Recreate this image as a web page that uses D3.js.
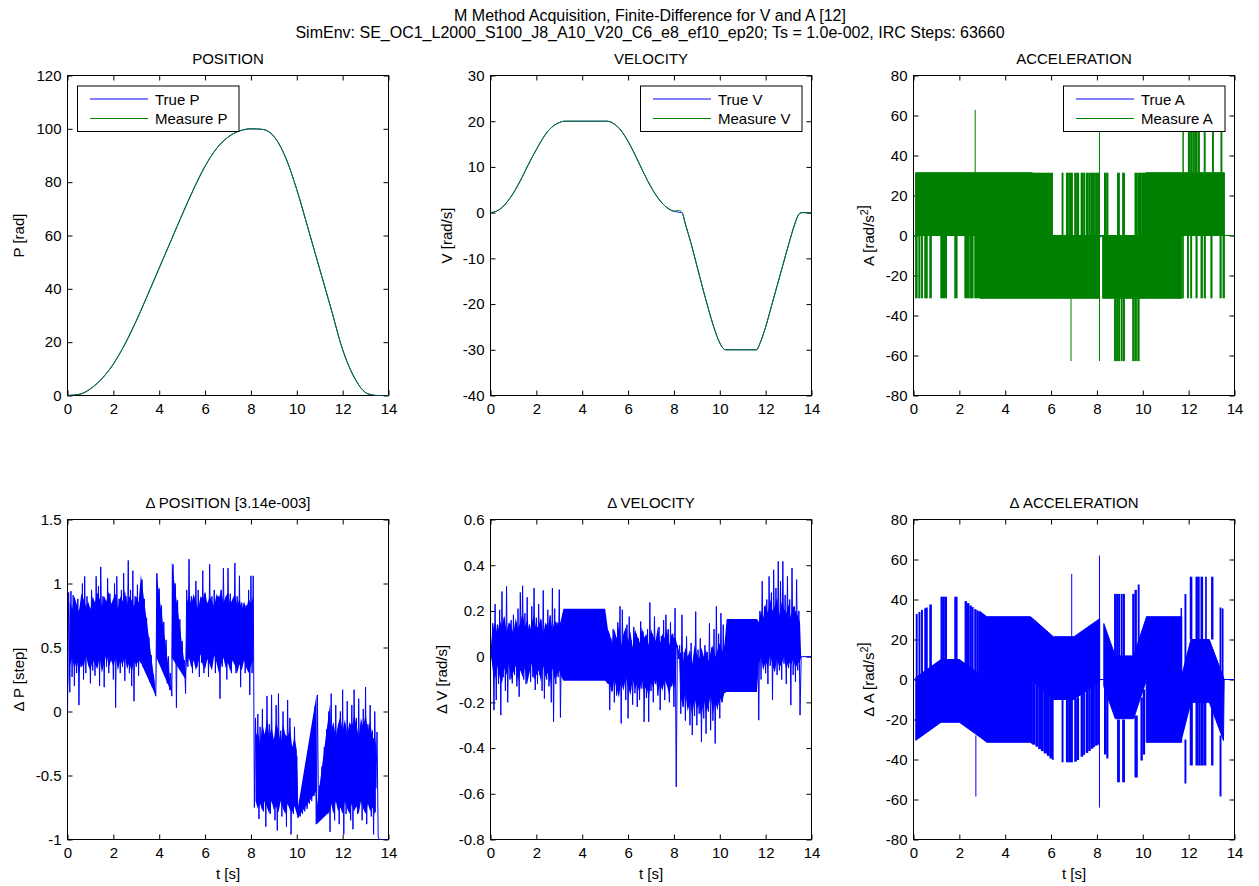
<!DOCTYPE html>
<html>
<head>
<meta charset="utf-8">
<script src="https://cdn.jsdelivr.net/npm/d3@7/dist/d3.min.js"></script>
<style>
  html, body { margin: 0; padding: 0; background: #fff; }
  svg { display: block; }
</style>
</head>
<body>
<svg id="fig" width="1259" height="886"></svg>
<script>
// ================= data =================
const xTicks   = [0, 2, 4, 6, 8, 10, 12, 14];
const posTicks = [0, 20, 40, 60, 80, 100, 120];
const velTicks = [-40, -30, -20, -10, 0, 10, 20, 30];
const accTicks = [-80, -60, -40, -20, 0, 20, 40, 60, 80];
const dPosTicks = [-1, -0.5, 0, 0.5, 1, 1.5];
const dVelTicks = [-0.8, -0.6, -0.4, -0.2, 0, 0.2, 0.4, 0.6];

// position [rad]
const posT    = [0, 0.5, 1, 1.5, 2, 2.5, 3, 3.5, 4, 4.5, 5, 5.5, 6, 6.5, 7, 7.5, 8, 8.5, 9, 9.5, 10, 10.5, 11, 11.5, 12, 12.5, 13, 13.3, 13.5, 14];
const posTrue = [0, 0.4, 2.5, 6.3, 11.8, 19.2, 28.0, 37.8, 47.8, 57.8, 67.8, 77.4, 86.0, 92.6, 96.9, 99.2, 100, 99.8, 97.2, 89.5, 77.2, 62.4, 47.4, 32.4, 17.2, 6.9, 1.1, 0.2, 0, 0];
const posMeas = [0, 0.4, 2.5, 6.3, 11.8, 19.2, 28.0, 37.8, 47.8, 57.8, 67.8, 77.4, 86.0, 92.6, 96.9, 99.2, 100, 99.8, 97.2, 89.5, 77.2, 62.4, 47.4, 32.4, 17.2, 6.9, 1.1, 0.2, 0, 0];

// velocity [rad/s]
const velT    = [0, 0.25, 0.5, 0.75, 1, 1.25, 1.5, 1.75, 2, 2.25, 2.5, 2.75, 3, 3.2, 5.1, 5.3, 5.5, 5.75, 6, 6.25, 6.5, 6.75, 7, 7.25, 7.5, 7.75, 8, 8.2, 8.35, 8.5, 8.75, 9, 9.25, 9.5, 9.75, 10, 10.15, 10.25, 11.6, 11.75, 12, 12.25, 12.5, 12.75, 13, 13.25, 13.4, 13.5, 13.6, 14];
const velTrue = [0, 0.3, 1.1, 2.5, 4.3, 6.5, 9.0, 11.5, 13.8, 16, 17.8, 19, 19.7, 20, 20, 19.7, 19, 17.6, 15.6, 13.2, 10.6, 8, 5.6, 3.6, 2, 0.9, 0.3, 0.1, 0, -2.5, -6.8, -11.6, -16.4, -21, -25.2, -28.5, -29.7, -30, -30, -28.6, -25, -20.5, -16, -11.5, -7, -2.8, -0.8, -0.1, 0, 0];
const velMeas = [0, 0.3, 1.1, 2.5, 4.3, 6.5, 9.0, 11.5, 13.8, 16, 17.8, 19, 19.7, 20, 20, 19.7, 19, 17.6, 15.6, 13.2, 10.6, 8, 5.6, 3.6, 2, 0.9, 0.3, 0.5, 0, -2.5, -6.8, -11.6, -16.4, -21, -25.2, -28.5, -29.7, -30, -30, -28.6, -25, -20.5, -16, -11.5, -7, -2.8, -0.8, -0.1, 0, 0];

// true acceleration [rad/s^2]
const accTrueT = [0, 0.1, 1.2, 2.0, 3.2, 5.1, 6.1, 7.0, 8.1, 8.25, 8.8, 9.6, 10.15, 11.65, 12.1, 12.9, 13.5, 14];
const accTrue  = [0, 0, 10, 10, 0, 0, -10, -10, -1, 0, -20, -20, 0, 0, 20, 20, 0, 0];

// measured acceleration: dense switching band (envelope) ...
const accEnvT  = [0, 0.09, 0.09, 2.9, 2.9, 5.18, 5.18, 8.11, 8.11, 8.25, 8.25, 10.15, 10.15, 11.7, 11.7, 13.56, 13.56, 14];
const accEnvLo = [0, 0, 0, 0, -31.4, -31.4, -31.4, -31.4, 0, 0, -31.4, -31.4, -31.4, -31.4, 0, 0, 0, 0];
const accEnvHi = [0, 0, 31.4, 31.4, 31.4, 31.4, 0, 0, 0, 0, 0, 0, 31.4, 31.4, 31.4, 31.4, 0, 0];
// ... and bursts outside it: [t start, t end, from, to]
const accBursts = [
  [0.09, 0.16, -31.4, 0], [0.23, 0.28, -31.4, 0], [0.35, 0.39, -31.4, 0], [0.49, 0.6, -31.4, 0],
  [0.71, 0.78, -31.4, 0], [1.19, 1.44, -31.4, 0], [1.8, 1.9, -31.4, 0], [2.24, 2.42, -31.4, 0],
  [2.46, 2.6, -31.4, 0], [2.67, 2.89, -31.4, 0],
  [2.69, 2.69, 31.4, 62.8],
  [5.18, 5.32, 0, 31.4], [5.35, 5.5, 0, 31.4], [5.53, 5.68, 0, 31.4], [5.71, 5.86, 0, 31.4], [5.89, 6.06, 0, 31.4],
  [6.48, 6.52, 0, 31.4], [6.67, 6.75, 0, 31.4], [6.78, 6.85, 0, 31.4], [6.88, 6.93, 0, 31.4],
  [7.03, 7.1, 0, 31.4], [7.13, 7.2, 0, 31.4], [7.31, 7.38, 0, 31.4], [7.42, 7.46, 0, 31.4],
  [7.53, 7.6, 0, 31.4], [7.64, 7.71, 0, 31.4], [7.75, 7.82, 0, 31.4], [7.85, 7.89, 0, 31.4],
  [7.94, 8.0, 0, 31.4], [8.03, 8.08, 0, 31.4],
  [6.87, 6.87, -62.8, -31.4], [8.11, 8.11, -62.8, 62.8],
  [8.33, 8.4, 0, 31.4], [8.43, 8.48, 0, 31.4], [8.9, 8.98, 0, 31.4], [9.12, 9.2, 0, 31.4],
  [9.66, 9.76, 0, 31.4], [9.8, 9.92, 0, 31.4], [9.95, 10.15, 0, 31.4],
  [8.77, 8.82, -62.8, -31.4], [8.86, 8.92, -62.8, -31.4], [8.95, 8.99, -62.8, -31.4],
  [9.06, 9.1, -62.8, -31.4], [9.15, 9.2, -62.8, -31.4], [9.56, 9.62, -62.8, -31.4],
  [9.66, 9.72, -62.8, -31.4], [9.78, 9.84, -62.8, -31.4],
  [11.74, 11.77, -31.4, 0], [11.95, 11.99, -31.4, 0], [12.09, 12.13, -31.4, 0], [12.32, 12.37, -31.4, 0],
  [12.54, 12.6, -31.4, 0], [12.68, 12.73, -31.4, 0], [12.97, 13.02, -31.4, 0], [13.37, 13.42, -31.4, 0],
  [13.5, 13.56, -31.4, 0],
  [11.75, 11.77, 31.4, 62.8], [11.99, 12.05, 31.4, 62.8], [12.09, 12.15, 31.4, 62.8], [12.19, 12.25, 31.4, 62.8],
  [12.3, 12.36, 31.4, 62.8], [12.41, 12.47, 31.4, 62.8], [12.68, 12.72, 31.4, 62.8], [13.04, 13.08, 31.4, 62.8],
  [13.41, 13.45, 31.4, 62.8]
];

// position error [step], sampled every 0.05 s
const dPosStep = 0.05;
const dPosA = [
  0.0, 0.93, 0.15, 0.94, 0.27, 0.91, 0.2, 0.75, 0.3, 0.88,
  0.05, 0.8, 0.35, 1.0, 0.25, 1.056, 0.3, 0.9, 0.4, 0.78,
  0.22, 0.95, 0.32, 0.85, 0.28, 1.056, 0.4, 0.98, 0.2, 1.13,
  0.5, 0.9, 0.19, 0.85, 0.35, 1.04, 0.3, 0.92, 0.45, 0.8,
  0.25, 1.0, 0.03, 1.056, 0.4, 0.88, 0.3, 0.95, 0.35, 1.08,
  0.24, 0.9, 0.42, 1.18, 0.3, 0.95, 0.2, 1.1, 0.08, 0.9,
  0.35, 0.99, 0.28, 0.85, 0.38, 1.03, 0.35, 0.88, 0.31, 0.73,
  0.27, 0.58, 0.23, 0.44, 0.19, 0.29, 0.16, 0.12, 1.08, 0.42,
  0.96, 0.38, 0.83, 0.33, 0.7, 0.28, 0.56, 0.22, 0.43, 0.17,
  0.3, 0.12, 1.15, 0.45, 1.0, 0.03, 0.87, 0.4, 0.72, 0.35,
  0.55, 0.3, 0.4, 0.14, 0.95, 0.35, 1.19, 0.4, 0.9, 0.3,
  0.85, 0.45, 1.02, 0.35, 0.95, 0.27, 0.88, 0.38, 1.1, 0.3,
  0.92, 0.4, 0.85, 0.27, 1.15, 0.35, 0.9, 0.45, 0.95, 0.3,
  0.82, 0.4, 0.9, 0.1, 0.95, 0.35, 1.12, 0.42, 0.88, 0.25,
  1.12, 0.38, 0.92, 0.3, 0.85, 0.44, 1.16, 0.3, 0.9, 0.36,
  1.06, 0.19, 0.85, 0.4, 0.78, 0.3, 0.83, 0.35, 0.95, 0.13,
  1.06, 0.3, 1.06
];
const dPosAStart = 0;
const dPosB = [
  -0.75, -0.05, -0.62, -0.02, -0.84, -0.12, -0.7, 0.02, -0.78, -0.2,
  -0.9, 0.12, -0.6, -0.1, -0.8, 0.13, -0.72, -0.25, -0.85, 0.05,
  -0.93, 0.14, -0.65, -0.15, -0.82, 0.0, -0.75, -0.2, -0.9, 0.09,
  -0.7, -0.05, -0.96, -0.3, -0.8, -0.12, -0.7, -0.35, -0.83, -0.77,
  -0.82, -0.66, -0.8, -0.54, -0.78, -0.42, -0.76, -0.31, -0.72, -0.19,
  -0.7, -0.08, -0.66, 0.04, -0.88, 0.13, -0.85, -0.58, -0.84, -0.43,
  -0.8, -0.28, -0.78, -0.14, -0.8, 0.0, -0.94, 0.14, -0.6, -0.1,
  -0.85, 0.05, -0.7, -0.2, -0.88, 0.0, -0.75, 0.17, -0.96, -0.1,
  -0.8, 0.08, -0.65, -0.15, -0.85, 0.05, -0.92, 0.17, -0.7, -0.05,
  -0.8, 0.1, -0.6, -0.2, -0.85, 0.02, -0.75, 0.19, -0.88, -0.1,
  -0.7, 0.05, -0.82, -0.15, -0.96, 0.0, -0.6, -0.16, -0.98
];
const dPosBStart = 8.15;
const dPosTailT = [13.6, 14];
const dPosTailV = [-1, -1];
// dense mass of the position error (null splits the band at the step near 8.1 s)
const dPosEnvT = [
  0.05, 0.1, 0.2, 0.3, 0.4, 0.5, 0.6, 0.7, 0.8, 0.9, 1.0, 1.1, 1.2, 1.3, 1.4, 1.5,
  1.6, 1.7, 1.8, 1.9, 2.0, 2.1, 2.2, 2.3, 2.4, 2.5, 2.6, 2.7, 2.8, 2.9, 3.0, 3.1,
  3.2, 3.86, 3.88, 4.53, 4.55, 5.15,
  5.2, 5.3, 5.4, 5.5, 5.6, 5.7, 5.8, 5.9, 6.0, 6.1, 6.2, 6.3, 6.4, 6.5, 6.6,
  6.7, 6.8, 6.9, 7.0, 7.1, 7.2, 7.3, 7.4, 7.5, 7.6, 7.7, 7.8, 7.9, 8.0, 8.1,
  null,
  8.2, 8.3, 8.4, 8.5, 8.6, 8.7, 8.8, 8.9, 9.0, 9.1, 9.2, 9.3, 9.4, 9.5, 9.6, 9.7, 9.8, 9.9, 10.0,
  10.05, 10.86, 10.87, 11.45,
  11.5, 11.6, 11.7, 11.8, 11.9, 12.0, 12.1, 12.2, 12.3, 12.4, 12.5, 12.6, 12.7, 12.8, 12.9,
  13.0, 13.1, 13.2, 13.3, 13.4, 13.45
];
const dPosEnvHi = [
  0.3, 0.86, 0.8, 0.9, 0.84, 0.78, 0.92, 0.88, 0.82, 0.86, 0.8, 0.9, 0.85, 0.93, 0.88, 0.82,
  0.9, 0.86, 0.94, 0.84, 0.88, 0.92, 0.8, 0.9, 0.86, 0.95, 0.84, 0.9, 0.87, 0.82, 0.9, 0.85,
  1.07, 0.14, 1.08, 0.17, 1.17, 0.3,
  0.85, 0.9, 0.84, 0.92, 0.86, 0.8, 0.9, 0.88, 0.94, 0.84, 0.9, 0.86, 0.82, 0.92, 0.88,
  0.95, 0.85, 0.9, 0.93, 0.84, 0.88, 0.92, 0.83, 0.88, 0.8, 0.86, 0.8, 0.88, 0.84, 0.9,
  null,
  -0.2, -0.15, -0.25, -0.1, -0.18, -0.06, -0.2, -0.12, -0.22, -0.08, -0.15, -0.25, -0.1, -0.18, -0.2, -0.12, -0.28, -0.2, -0.3,
  -0.75, 0.13, -0.75, 0.06,
  -0.15, -0.08, -0.2, -0.1, -0.04, -0.15, -0.06, -0.18, -0.08, -0.12, -0.03, -0.1, -0.2, -0.05, -0.12,
  -0.02, -0.15, -0.08, -0.2, -0.22, -0.25
];
const dPosEnvLo = [
  0.2, 0.35, 0.42, 0.33, 0.4, 0.3, 0.38, 0.34, 0.44, 0.36, 0.32, 0.4, 0.37, 0.33, 0.42, 0.3,
  0.38, 0.45, 0.34, 0.4, 0.35, 0.42, 0.32, 0.4, 0.36, 0.43, 0.33, 0.38, 0.3, 0.4, 0.36, 0.4,
  0.38, 0.12, 0.42, 0.15, 0.42, 0.25,
  0.38, 0.42, 0.34, 0.4, 0.32, 0.38, 0.45, 0.36, 0.33, 0.41, 0.37, 0.32, 0.44, 0.38, 0.3,
  0.36, 0.42, 0.34, 0.38, 0.31, 0.4, 0.36, 0.3, 0.37, 0.32, 0.4, 0.34, 0.3, 0.36, 0.4,
  null,
  -0.7, -0.76, -0.72, -0.78, -0.7, -0.75, -0.8, -0.7, -0.77, -0.74, -0.79, -0.7, -0.76, -0.8, -0.72, -0.77, -0.79, -0.74, -0.8,
  -0.83, -0.62, -0.88, -0.78,
  -0.72, -0.8, -0.7, -0.78, -0.75, -0.8, -0.7, -0.76, -0.8, -0.72, -0.78, -0.74, -0.8, -0.7, -0.76,
  -0.8, -0.72, -0.78, -0.75, -0.8, -0.78
];

// velocity error [rad/s], sampled every 0.05 s
const dVelStep = 0.05;
const dVelA = [
  0.02, 0.03, 0.146, -0.234, 0.23, -0.19, 0.14, -0.12, 0.205, -0.256,
  0.285, -0.09, 0.17, -0.15, 0.307, -0.2, 0.12, -0.1, 0.16, -0.117,
  0.183, -0.08, 0.15, -0.13, 0.21, -0.175, 0.281, -0.06, 0.31, -0.1,
  0.19, -0.12, 0.26, -0.07, 0.14, -0.11, 0.22, -0.09, 0.30, -0.146,
  0.17, -0.12, 0.23, -0.08, 0.16, -0.15, 0.29, -0.183, 0.13, -0.1,
  0.205, -0.13, 0.18, -0.2, 0.30, -0.285, 0.21, -0.12, 0.15, -0.09,
  0.293, -0.266, 0.12
];
const dVelAStart = 0;
const dVelB = [
  0.10, -0.234, 0.08, -0.15, 0.12, -0.20, 0.06, -0.17, 0.15, -0.10,
  0.22, -0.292, 0.205, -0.13, 0.09, -0.19, 0.14, -0.27, 0.175, -0.12,
  0.07, -0.21, 0.13, -0.16, 0.10, -0.22, 0.08, -0.19, 0.154, -0.14,
  0.11, -0.285, 0.09, -0.18, 0.12, -0.285, 0.237, -0.15, 0.10, -0.20,
  0.175, -0.12, 0.08, -0.17, 0.13, -0.234, 0.09, -0.14, 0.16, -0.19,
  0.183, -0.11, 0.12, -0.20, 0.15, -0.13, 0.10, -0.22, 0.212, -0.57,
  0.05, -0.01,
  0.05, -0.25, 0.183, -0.22, 0.02, -0.28, 0.088, -0.2, 0.0, -0.3,
  0.06, -0.343, -0.02, -0.26, 0.197, -0.3, 0.03, -0.25, 0.08, -0.373,
  0.01, -0.27, 0.05, -0.337, 0.02, -0.24, 0.146, -0.322, 0.04, -0.28,
  0.12, -0.38, 0.22, -0.23, 0.1, -0.27, 0.19, -0.2, 0.14, -0.15
];
const dVelBStart = 5.15;
const dVelC = [
  0.16, -0.278, 0.2, -0.1, 0.33, -0.05, 0.22, -0.073, 0.25, -0.12,
  0.351, -0.04, 0.28, -0.19, 0.38, -0.02, 0.3, -0.08, 0.417, -0.06,
  0.33, -0.1, 0.417, -0.03, 0.27, -0.12, 0.351, -0.05, 0.25, -0.212,
  0.388, -0.08, 0.22, -0.11, 0.337, -0.06, 0.2, -0.256
];
const dVelCStart = 11.65;
const dVelTailT = [13.55, 14];
const dVelTailV = [0, 0];
// dense mass of the velocity error
const dVelEnvT = [
  0,
  0.1, 0.2, 0.3, 0.4, 0.5, 0.6, 0.7, 0.8, 0.9, 1.0, 1.1, 1.2, 1.3, 1.4, 1.5,
  1.6, 1.7, 1.8, 1.9, 2.0, 2.1, 2.2, 2.3, 2.4, 2.5, 2.6, 2.7, 2.8, 2.9, 3.0,
  3.05, 3.18, 5.0, 5.12,
  5.2, 5.3, 5.4, 5.5, 5.6, 5.7, 5.8, 5.9, 6.0, 6.1, 6.2, 6.3, 6.4, 6.5, 6.6,
  6.7, 6.8, 6.9, 7.0, 7.1, 7.2, 7.3, 7.4, 7.5, 7.6, 7.7, 7.8, 7.9, 8.0,
  8.08, 8.12, 8.24,
  8.3, 8.4, 8.5, 8.6, 8.7, 8.8, 8.9, 9.0, 9.1, 9.2, 9.3, 9.4, 9.5, 9.6, 9.7,
  9.8, 9.9, 10.0, 10.1, 10.2,
  10.3, 11.62,
  11.7, 11.8, 11.9, 12.0, 12.1, 12.2, 12.3, 12.4, 12.5, 12.6, 12.7, 12.8, 12.9,
  13.0, 13.1, 13.2, 13.3, 13.4, 13.5,
  13.55, 14
];
const dVelEnvHi = [
  0.02,
  0.12, 0.15, 0.1, 0.16, 0.13, 0.18, 0.11, 0.15, 0.14, 0.1, 0.17, 0.12, 0.15, 0.19, 0.13,
  0.16, 0.11, 0.15, 0.18, 0.12, 0.14, 0.17, 0.1, 0.15, 0.13, 0.18, 0.12, 0.16, 0.14, 0.15,
  0.15, 0.21, 0.21, 0.12,
  0.1, 0.06, 0.12, 0.08, 0.14, 0.05, 0.1, 0.13, 0.07, 0.11, 0.04, 0.12, 0.09, 0.06, 0.13,
  0.08, 0.1, 0.05, 0.12, 0.09, 0.07, 0.13, 0.06, 0.1, 0.08, 0.12, 0.05, 0.1, 0.08,
  0.08, 0.06, 0.01,
  0.02, -0.02, 0.04, 0.0, 0.03, -0.03, 0.05, 0.01, -0.01, 0.04, 0.0, 0.03, -0.02, 0.02, 0.05,
  0.0, 0.03, 0.06, 0.02, 0.05,
  0.165, 0.165,
  0.15, 0.2, 0.17, 0.23, 0.19, 0.25, 0.2, 0.22, 0.26, 0.18, 0.24, 0.21, 0.19,
  0.23, 0.17, 0.22, 0.2, 0.18, 0.15,
  0, 0
];
const dVelEnvLo = [
  0.02,
  -0.06, -0.1, -0.04, -0.09, -0.12, -0.05, -0.08, -0.03, -0.1, -0.07, -0.04, -0.11, -0.06, -0.09, -0.05,
  -0.12, -0.07, -0.03, -0.1, -0.08, -0.06, -0.11, -0.04, -0.09, -0.07, -0.12, -0.05, -0.1, -0.08, -0.06,
  -0.08, -0.105, -0.105, -0.12,
  -0.12, -0.16, -0.1, -0.14, -0.18, -0.11, -0.15, -0.09, -0.13, -0.17, -0.1, -0.14, -0.12, -0.16, -0.1,
  -0.15, -0.13, -0.18, -0.11, -0.14, -0.09, -0.16, -0.12, -0.15, -0.1, -0.13, -0.17, -0.11, -0.14,
  -0.1, 0.04, -0.01,
  -0.18, -0.22, -0.16, -0.24, -0.2, -0.26, -0.18, -0.23, -0.21, -0.27, -0.19, -0.24, -0.22, -0.17, -0.25,
  -0.2, -0.23, -0.18, -0.2, -0.16,
  -0.155, -0.155,
  -0.03, 0.0, -0.06, -0.02, -0.05, 0.01, -0.04, -0.07, -0.01, -0.05, -0.03, 0.0, -0.06,
  -0.02, -0.04, -0.01, -0.05, -0.03, -0.02,
  0, 0
];

// acceleration error [rad/s^2]: dense band ...
const dAccEnvT  = [0, 0.1, 0.1, 1.2, 2.0, 2.9, 2.9, 3.2, 5.1, 5.2, 5.2, 6.1, 7.0, 8.12, 8.12, 8.3, 8.3, 8.8, 9.6, 10.15, 10.15, 11.7, 11.7, 12.1, 12.9, 13.52, 13.55, 14];
const dAccEnvLo = [0, 0, -30.4, -21.4, -21.4, -28.8, -28.8, -31.4, -31.4, -32.3, -0.9, -10, -10, -1, 0, 0, -3.4, -19.6, -19.6, -0.5, -31.4, -31.4, -29.4, -11.4, -11.4, -30.5, 0, 0];
const dAccEnvHi = [0, 0, 1.0, 10, 10, 2.6, 34.0, 31.4, 31.4, 30.5, 30.5, 21.4, 21.4, 30.4, 0, 0, 28, 11.8, 11.8, 30.9, 31.4, 31.4, 2, 20, 20, 1, 0, 0];
// ... and bursts outside it: [t start, t end, from, to]
const dAccBursts = [
  [0.12, 0.16, 0, 32.8], [0.24, 0.28, 0, 33.8], [0.35, 0.39, 0, 34.8], [0.49, 0.53, 0, 35.6],
  [0.55, 0.6, 0, 36.0], [0.71, 0.78, 0, 37.5], [1.2, 1.26, 5, 41.4], [1.29, 1.34, 5, 41.4],
  [1.37, 1.44, 5, 41.4], [1.8, 1.9, 5, 41.4], [2.25, 2.31, 5, 39.2], [2.34, 2.42, 5, 38.2],
  [2.46, 2.52, 3, 37.0], [2.55, 2.6, 3, 36.2], [2.67, 2.72, 2, 35.2], [2.76, 2.8, 2, 34.6],
  [2.84, 2.89, 1, 34.1],
  [2.72, 2.72, -28, -58.5],
  [5.22, 5.3, -1, -32.6], [5.34, 5.42, -2, -33.6], [5.46, 5.55, -3, -34.8], [5.58, 5.66, -4, -35.8],
  [5.7, 5.8, -5, -37], [5.84, 5.92, -6.5, -38.2], [5.95, 6.05, -8, -39.5], [6.06, 6.09, -9, -40.2],
  [6.48, 6.52, -10, -41.4], [6.67, 6.75, -10, -41.4], [6.78, 6.85, -10, -41.4], [6.88, 6.93, -10, -41.4],
  [7.03, 7.1, -9.7, -41.1], [7.13, 7.2, -8.9, -40.3], [7.31, 7.38, -7.2, -38.6], [7.42, 7.46, -6.3, -37.7],
  [7.53, 7.6, -5.3, -36.7], [7.64, 7.71, -4.3, -35.7], [7.75, 7.82, -3.2, -34.6], [7.85, 7.89, -2.4, -33.8],
  [7.94, 8.0, -1.7, -33.1], [8.03, 8.08, -1.2, -32.6],
  [6.9, 6.9, 21, 52.8], [8.11, 8.11, -64, 62],
  [8.33, 8.4, -4, -37.5], [8.43, 8.48, -7, -39.5],
  [8.77, 8.82, 11, 42.8], [8.86, 8.92, 11, 42.8], [8.95, 8.99, 11, 42.8], [9.06, 9.1, 11, 42.8],
  [9.15, 9.2, 11, 42.8], [9.56, 9.62, 11, 42.8], [9.66, 9.72, 11, 44.8], [9.8, 9.84, 15, 47.5],
  [8.9, 8.98, -20, -51.4], [9.12, 9.2, -20, -51.4], [9.66, 9.76, -18, -49], [9.92, 9.98, -9, -40.5],
  [10.02, 10.08, -5, -37.5],
  [11.67, 11.69, 2, 35.7], [11.84, 11.88, 0, 42.7], [11.84, 11.88, -30, -52],
  [12.07, 12.14, 20, 51.4], [12.32, 12.38, 20, 51.4], [12.4, 12.46, 20, 51.4], [12.54, 12.61, 20, 51.4],
  [12.74, 12.77, 20, 51.4], [13.0, 13.06, 20, 51.4],
  [12.07, 12.16, -11, -43], [12.32, 12.4, -11, -43], [12.44, 12.5, -11, -43], [12.54, 12.62, -11, -43],
  [12.66, 12.75, -11, -43], [13.0, 13.06, -11, -43],
  [13.37, 13.41, 0, 36], [13.37, 13.41, -28, -58.5], [13.47, 13.5, 0, 35.5]
];

// ================= layout =================
const FONT = '"Liberation Sans", Arial, Helvetica, sans-serif';
const FS = 15;
const FS_SUPTITLE = 16;
const PW = 321, PH = 320;
const colX = [67.5, 490.5, 913.5];
const rowY = [75.5, 519.5];
const BLUE = "#0000ff", GREEN = "#008000";

const svg = d3.select("#fig");
svg.append("rect").attr("width", 1259).attr("height", 886).attr("fill", "#fff");

const fmt = d => String(+d.toFixed(2));
const zip = (T, V) => T.map((t, i) => ({ t, v: V[i] }));
const zipEnv = (T, L, Hh) => T.map((t, i) => ({ t, lo: L[i], hi: Hh[i] }));
const sampled = (start, step, vals) => vals.map((v, i) => ({ t: +(start + i * step).toFixed(3), v }));

function makePanel(col, row, yDom, yTicks) {
  const g = svg.append("g").attr("transform", `translate(${colX[col]},${rowY[row]})`);
  const x = d3.scaleLinear().domain([0, 14]).range([0, PW]);
  const y = d3.scaleLinear().domain(yDom).range([PH, 0]);
  const id = `clip-${col}-${row}`;
  g.append("clipPath").attr("id", id).append("rect").attr("width", PW).attr("height", PH);

  const styleAxis = a => {
    a.attr("font-family", FONT).attr("font-size", FS);
    a.select(".domain").remove();
    a.selectAll(".tick line").attr("stroke", "#000");
    a.selectAll(".tick text").attr("fill", "#000");
  };
  g.append("g").attr("transform", `translate(0,${PH})`)
    .call(d3.axisBottom(x).tickValues(xTicks).tickFormat(fmt).tickSizeInner(-5).tickSizeOuter(0).tickPadding(8))
    .call(styleAxis);
  g.append("g")
    .call(d3.axisTop(x).tickValues(xTicks).tickFormat("").tickSizeInner(-5).tickSizeOuter(0))
    .call(styleAxis);
  g.append("g")
    .call(d3.axisLeft(y).tickValues(yTicks).tickFormat(fmt).tickSizeInner(-5).tickSizeOuter(0).tickPadding(6))
    .call(styleAxis);
  g.append("g").attr("transform", `translate(${PW},0)`)
    .call(d3.axisRight(y).tickValues(yTicks).tickFormat("").tickSizeInner(-5).tickSizeOuter(0))
    .call(styleAxis);
  g.append("rect").attr("width", PW).attr("height", PH)
    .attr("fill", "none").attr("stroke", "#000").attr("stroke-width", 1);

  const layer = g.append("g").attr("clip-path", `url(#${id})`);
  return { g, x, y, layer };
}

function addText(sel, parts) {
  // parts: plain strings, or {sup: "..."} for a superscript
  parts.forEach(p => {
    if (typeof p === "string") sel.append("tspan").text(p);
    else {
      sel.append("tspan").attr("dy", -6).attr("font-size", FS * 0.72).text(p.sup);
      sel.append("tspan").attr("dy", 6).text("");
    }
  });
}

function labels(p, title, ylabel, ylabelDx, withXLabel) {
  const t = p.g.append("text").attr("x", PW / 2).attr("y", -12)
    .attr("text-anchor", "middle").attr("font-family", FONT).attr("font-size", FS);
  addText(t, title);
  const yl = p.g.append("text")
    .attr("transform", `translate(${ylabelDx},${PH / 2}) rotate(-90)`)
    .attr("text-anchor", "middle").attr("font-family", FONT).attr("font-size", FS);
  addText(yl, ylabel);
  if (withXLabel) {
    p.g.append("text").attr("x", PW / 2).attr("y", PH + 39)
      .attr("text-anchor", "middle").attr("font-family", FONT).attr("font-size", FS)
      .text("t [s]");
  }
}

function legend(p, side, names) {
  const bw = 161.5, bh = 45.5;
  const bx = side === "left" ? 10 : PW - 9.5 - bw, by = 10.5;
  const lg = p.g.append("g").attr("transform", `translate(${bx},${by})`);
  lg.append("rect").attr("width", bw).attr("height", bh).attr("fill", "#fff").attr("stroke", "#000");
  [[BLUE, names[0], 13], [GREEN, names[1], 32.5]].forEach(([c, txt, ly]) => {
    lg.append("line").attr("x1", 12.5).attr("x2", 70.5).attr("y1", ly).attr("y2", ly)
      .attr("stroke", c).attr("stroke-width", 1);
    lg.append("text").attr("x", 77.5).attr("y", ly + 5.8)
      .attr("font-family", FONT).attr("font-size", FS).text(txt);
  });
}

function drawLine(p, data, color, curve) {
  p.layer.append("path").datum(data)
    .attr("fill", "none").attr("stroke", color).attr("stroke-width", 1)
    .attr("stroke-linejoin", "round")
    .attr("d", d3.line().x(d => p.x(d.t)).y(d => p.y(d.v)).curve(curve || d3.curveLinear));
}
function drawBand(p, data, color, stroke) {
  p.layer.append("path").datum(data)
    .attr("fill", color).attr("stroke", stroke ? color : "none").attr("stroke-width", 1)
    .attr("d", d3.area().defined(d => d.t !== null)
      .x(d => p.x(d.t)).y0(d => p.y(d.lo)).y1(d => p.y(d.hi)));
}
function drawBursts(p, bursts, color) {
  p.layer.selectAll(null).data(bursts).enter().append("rect")
    .attr("x", d => p.x(d[0]) - 0.5)
    .attr("width", d => Math.max(p.x(d[1]) - p.x(d[0]), 0) + 1)
    .attr("y", d => p.y(Math.max(d[2], d[3])))
    .attr("height", d => Math.abs(p.y(d[2]) - p.y(d[3])))
    .attr("fill", color);
}

// ================= figure title =================
[["M Method Acquisition, Finite-Difference for V and A [12]", 20.5],
 ["SimEnv: SE_OC1_L2000_S100_J8_A10_V20_C6_e8_ef10_ep20; Ts = 1.0e-002, IRC Steps: 63660", 38]]
  .forEach(([txt, yy]) => svg.append("text").attr("x", 650).attr("y", yy)
    .attr("text-anchor", "middle").attr("font-family", FONT).attr("font-size", FS_SUPTITLE).text(txt));

// ================= POSITION =================
const pPos = makePanel(0, 0, [0, 120], posTicks);
drawLine(pPos, zip(posT, posTrue), BLUE, d3.curveMonotoneX);
drawLine(pPos, zip(posT, posMeas), GREEN, d3.curveMonotoneX);
labels(pPos, ["POSITION"], ["P [rad]"], -43.5, false);
legend(pPos, "left", ["True P", "Measure P"]);

// ================= VELOCITY =================
const pVel = makePanel(1, 0, [-40, 30], velTicks);
drawLine(pVel, zip(velT, velTrue), BLUE, d3.curveMonotoneX);
drawLine(pVel, zip(velT, velMeas), GREEN, d3.curveMonotoneX);
labels(pVel, ["VELOCITY"], ["V [rad/s]"], -39, false);
legend(pVel, "right", ["True V", "Measure V"]);

// ================= ACCELERATION =================
const pAcc = makePanel(2, 0, [-80, 80], accTicks);
drawLine(pAcc, zip(accTrueT, accTrue), BLUE);
drawBand(pAcc, zipEnv(accEnvT, accEnvLo, accEnvHi), GREEN, true);
drawBursts(pAcc, accBursts, GREEN);
labels(pAcc, ["ACCELERATION"], ["A [rad/s", { sup: "2" }, "]"], -40, false);
legend(pAcc, "right", ["True A", "Measure A"]);

// ================= Δ POSITION =================
const pdPos = makePanel(0, 1, [-1, 1.5], dPosTicks);
drawBand(pdPos, zipEnv(dPosEnvT, dPosEnvLo, dPosEnvHi), BLUE, false);
drawLine(pdPos, [].concat(
  sampled(dPosAStart, dPosStep, dPosA),
  sampled(dPosBStart, dPosStep, dPosB),
  zip(dPosTailT, dPosTailV)), BLUE);
labels(pdPos, ["\u0394 POSITION [3.14e-003]"], ["\u0394 P [step]"], -43.5, true);

// ================= Δ VELOCITY =================
const pdVel = makePanel(1, 1, [-0.8, 0.6], dVelTicks);
drawBand(pdVel, zipEnv(dVelEnvT, dVelEnvLo, dVelEnvHi), BLUE, false);
drawLine(pdVel, [].concat(
  sampled(dVelAStart, dVelStep, dVelA),
  sampled(dVelBStart, dVelStep, dVelB),
  sampled(dVelCStart, dVelStep, dVelC),
  zip(dVelTailT, dVelTailV)), BLUE);
labels(pdVel, ["\u0394 VELOCITY"], ["\u0394 V [rad/s]"], -44, true);

// ================= Δ ACCELERATION =================
const pdAcc = makePanel(2, 1, [-80, 80], accTicks);
drawBand(pdAcc, zipEnv(dAccEnvT, dAccEnvLo, dAccEnvHi), BLUE, true);
drawBursts(pdAcc, dAccBursts, BLUE);
labels(pdAcc, ["\u0394 ACCELERATION"], ["\u0394 A [rad/s", { sup: "2" }, "]"], -39.5, true);
</script>
</body>
</html>
